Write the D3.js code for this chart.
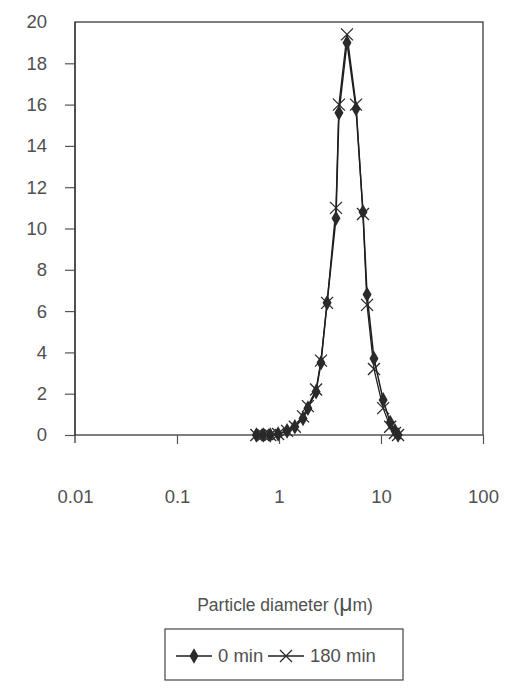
<!DOCTYPE html>
<html>
<head>
<meta charset="utf-8">
<script src="https://cdn.jsdelivr.net/npm/d3@7"></script>
<style>
  html, body { margin: 0; padding: 0; background: #fff; }
  svg { display: block; }
  text { font-family: "Liberation Sans", Arial, sans-serif; fill: #505050; }
</style>
</head>
<body>
<svg id="chart" width="508" height="693"></svg>
<script>
// Particle size distribution (volume %) at two sampling times
const diameters = [0.60, 0.70, 0.82, 0.98, 1.20, 1.43, 1.72, 1.92, 2.31, 2.58, 2.96,
                   3.62, 3.87, 4.64, 5.69, 6.66, 7.30, 8.53, 10.5, 12.3, 13.7, 14.7];
const min0   = [0, 0, 0, 0.05, 0.2, 0.4, 0.8, 1.3, 2.1, 3.5, 6.4,
                10.5, 15.6, 19.0, 15.8, 10.8, 6.8, 3.7, 1.7, 0.6, 0.2, 0];
const min180 = [0, 0, 0, 0.05, 0.2, 0.4, 0.9, 1.4, 2.2, 3.6, 6.4,
                11.0, 16.0, 19.4, 16.0, 10.7, 6.3, 3.2, 1.3, 0.4, 0.1, 0];
const yTicks = [0, 2, 4, 6, 8, 10, 12, 14, 16, 18, 20];
const xTicks = [0.01, 0.1, 1, 10, 100];
const xTickLabels = ["0.01", "0.1", "1", "10", "100"];
const seriesNames = ["0 min", "180 min"];

const svg = d3.select("#chart");
const plotL = 75, plotR = 483, plotT = 22, plotB = 435;

const x = d3.scaleLog().domain([0.01, 100]).range([plotL, plotR]);
const y = d3.scaleLinear().domain([0, 20]).range([plotB, plotT]);
const ink = "#1e1e1e";
const tickFont = 18.5;

// plot frame
svg.append("rect")
  .attr("x", plotL).attr("y", plotT)
  .attr("width", plotR - plotL).attr("height", plotB - plotT)
  .attr("fill", "none").attr("stroke", "#3a3a3a").attr("stroke-width", 1.3);

// y axis
const yAxis = svg.append("g")
  .attr("transform", `translate(${plotL},0)`)
  .call(d3.axisLeft(y).tickValues(yTicks).tickSize(10).tickPadding(18).tickFormat(d3.format("d")));
yAxis.select(".domain").remove();
yAxis.selectAll(".tick line").attr("stroke", "#555").attr("stroke-width", 1.2);
yAxis.selectAll(".tick text").attr("font-size", tickFont).style("fill", "#505050");
yAxis.selectAll(".tick").filter(d => d === 20).select("line").remove();

// y axis line runs slightly past the baseline
svg.append("line")
  .attr("x1", plotL).attr("x2", plotL).attr("y1", plotT).attr("y2", plotB + 8)
  .attr("stroke", "#3a3a3a").attr("stroke-width", 1.3);

// x axis at zero
const xAxis = svg.append("g")
  .attr("transform", `translate(0,${plotB})`)
  .call(d3.axisBottom(x).tickValues(xTicks).tickSize(9).tickPadding(46)
        .tickFormat((d, i) => xTickLabels[i]));
xAxis.select(".domain").remove();
xAxis.selectAll(".tick line").attr("stroke", "#555").attr("stroke-width", 1.2);
xAxis.selectAll(".tick text").attr("font-size", tickFont).style("fill", "#505050");
xAxis.selectAll(".tick").filter(d => d === 0.01).select("line").remove();

// series lines
const line = d3.line().x(d => x(d[0])).y(d => y(d[1]));
const pts0 = diameters.map((d, i) => [d, min0[i]]);
const pts180 = diameters.map((d, i) => [d, min180[i]]);

svg.append("path").datum(pts0).attr("d", line)
  .attr("fill", "none").attr("stroke", ink).attr("stroke-width", 1.5);
svg.append("path").datum(pts180).attr("d", line)
  .attr("fill", "none").attr("stroke", ink).attr("stroke-width", 1.3);

// markers
const diamond = d3.symbol().type(d3.symbolDiamond).size(70);
const xMark = "M-6,-6L6,6M-6,6L6,-6";

svg.append("g").selectAll("path").data(pts0).join("path")
  .attr("transform", d => `translate(${x(d[0])},${y(d[1])})`)
  .attr("d", diamond).attr("fill", "#2a2a2a");

svg.append("g").selectAll("path").data(pts180).join("path")
  .attr("transform", d => `translate(${x(d[0])},${y(d[1])})`)
  .attr("d", xMark).attr("fill", "none").attr("stroke", "#2a2a2a").attr("stroke-width", 1.3);

// axis title
const title = svg.append("text")
  .attr("x", 285).attr("y", 611).attr("text-anchor", "middle").attr("font-size", 17.5);
title.append("tspan").text("Particle diameter (");
title.append("tspan").attr("font-size", 23).text("\u03BC");
title.append("tspan").text("m)");

// legend
const lg = svg.append("g");
lg.append("rect").attr("x", 165).attr("y", 629).attr("width", 238).attr("height", 51)
  .attr("fill", "none").attr("stroke", "#444").attr("stroke-width", 1.2);

const items = [
  { x0: 176, x1: 212, tx: 218, marker: "diamond" },
  { x0: 268, x1: 304, tx: 310, marker: "x" }
];
const ly = 656;
items.forEach((it, i) => {
  lg.append("line").attr("x1", it.x0).attr("x2", it.x1).attr("y1", ly).attr("y2", ly)
    .attr("stroke", ink).attr("stroke-width", 1.5);
  const cx = (it.x0 + it.x1) / 2;
  if (it.marker === "diamond") {
    lg.append("path").attr("transform", `translate(${cx},${ly})`).attr("d", diamond).attr("fill", "#2a2a2a");
  } else {
    lg.append("path").attr("transform", `translate(${cx},${ly})`).attr("d", xMark)
      .attr("fill", "none").attr("stroke", "#2a2a2a").attr("stroke-width", 1.3);
  }
  lg.append("text").attr("x", it.tx).attr("y", ly + 6).attr("font-size", 18.5).text(seriesNames[i]);
});
</script>
</body>
</html>
